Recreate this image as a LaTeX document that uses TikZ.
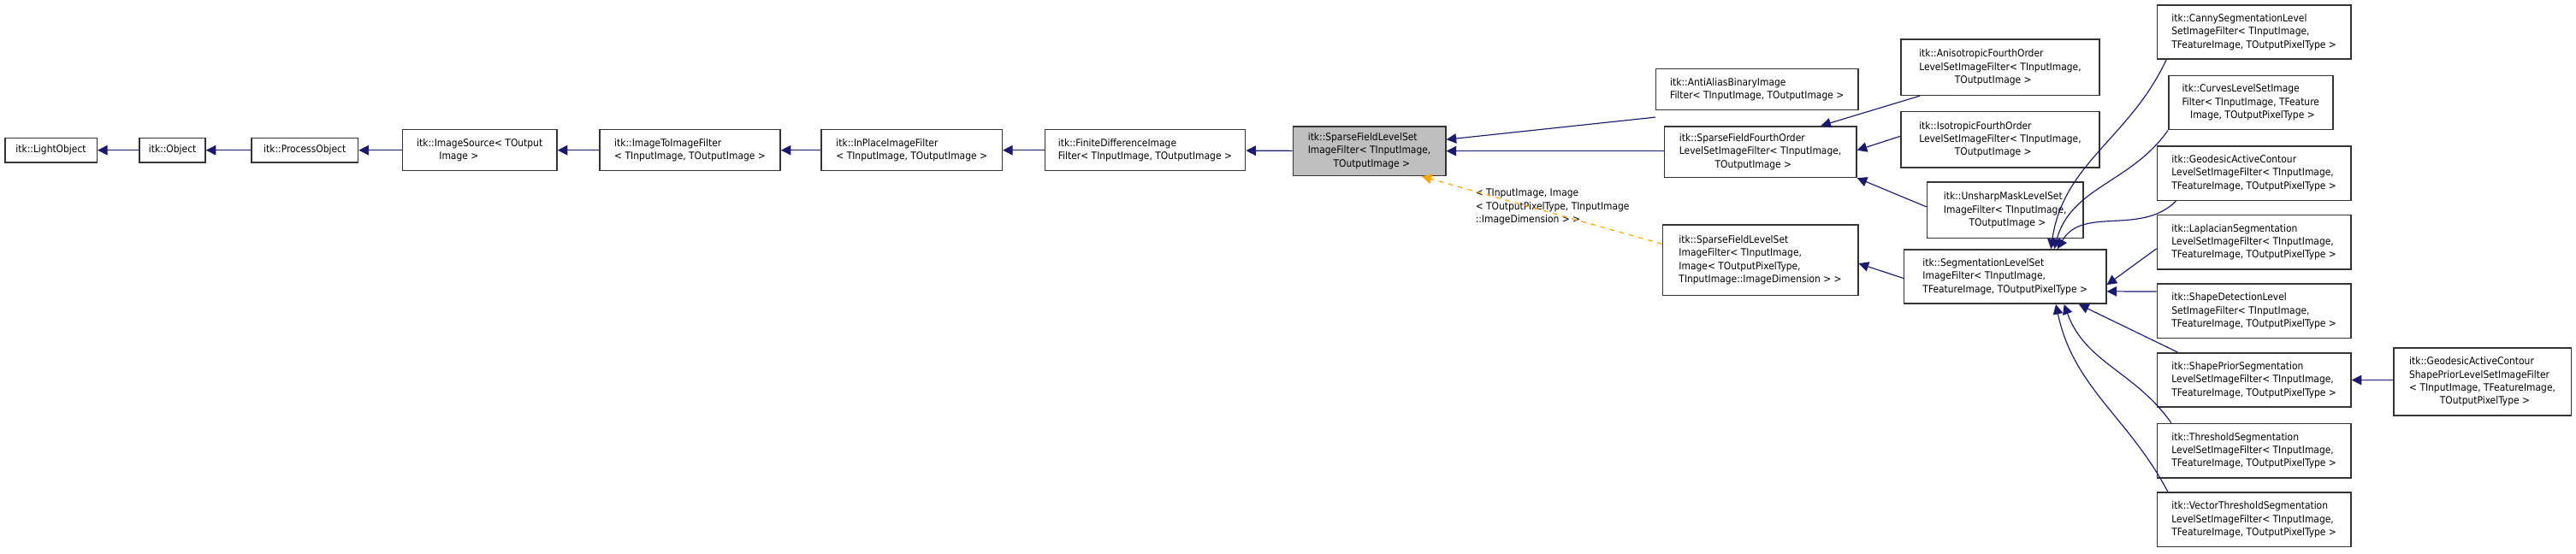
\documentclass[tikz,border=0pt]{standalone}
\usepackage{fontspec}
\setmainfont{DejaVu Sans Condensed}
\usetikzlibrary{arrows.meta}
\definecolor{edgeblue}{RGB}{25,25,112}
\definecolor{litorange}{RGB}{255,165,0}
\tikzset{
  cls/.style={draw=black!80, thick, fill=white, inner sep=1pt, align=left,
    font=\fontsize{6.2}{8}\selectfont},
  cur/.style={cls, fill=black!25},
  inh/.style={draw=edgeblue, semithick, -{Triangle[length=6pt,width=6pt]}},
  tpl/.style={draw=litorange, semithick, dashed, -{Triangle[length=6pt,width=6pt]}}
}
\newcommand{\cbox}[6][cls]{% style, name, x1, y1, x2, y2, then text
  \node[#1, minimum width={#5-#3}, minimum height={#6-#4}] (#2) at ({(#3+#5)/2},{(#4+#6)/2})}
\begin{document}
\begin{tikzpicture}[x=1pt, y=-1pt]
  \useasboundingbox (0,0) rectangle (1568,337.4);
  \cbox{light}{3}{84}{59}{99} {itk::LightObject};
  \cbox{obj}{85}{84}{125}{99} {itk::Object};
  \cbox{proc}{153}{84}{218}{99} {itk::ProcessObject};
  \cbox{src}{245}{79}{339}{104} {itk::ImageSource< TOutput\\\hspace*{2.2em}Image >};
  \cbox{i2i}{365}{79}{475}{104} {itk::ImageToImageFilter\\< TInputImage, TOutputImage >};
  \cbox{inpl}{500}{79}{610}{104} {itk::InPlaceImageFilter\\< TInputImage, TOutputImage >};
  \cbox{fdif}{636}{79}{758}{104} {itk::FiniteDifferenceImage\\Filter< TInputImage, TOutputImage >};
  \cbox[cur]{sfls}{787}{77}{880}{107} {itk::SparseFieldLevelSet\\ImageFilter< TInputImage,\\\hspace*{2.5em}TOutputImage >};
  \cbox{anti}{1008}{42}{1131}{67} {itk::AntiAliasBinaryImage\\Filter< TInputImage, TOutputImage >};
  \cbox{sf4}{1013}{77}{1130}{108} {itk::SparseFieldFourthOrder\\LevelSetImageFilter< TInputImage,\\\hspace*{3.5em}TOutputImage >};
  \cbox{aniso}{1157}{24}{1278}{58} {itk::AnisotropicFourthOrder\\LevelSetImageFilter< TInputImage,\\\hspace*{3.5em}TOutputImage >};
  \cbox{iso}{1157}{68}{1278}{102} {itk::IsotropicFourthOrder\\LevelSetImageFilter< TInputImage,\\\hspace*{3.5em}TOutputImage >};
  \cbox{unsh}{1173}{111}{1268}{145} {itk::UnsharpMaskLevelSet\\ImageFilter< TInputImage,\\\hspace*{2.5em}TOutputImage >};
  \cbox{sflsi}{1012}{137}{1131}{180} {itk::SparseFieldLevelSet\\ImageFilter< TInputImage,\\ Image< TOutputPixelType,\\ TInputImage::ImageDimension > >};
  \cbox{seg}{1159}{152}{1282}{185} {itk::SegmentationLevelSet\\ImageFilter< TInputImage,\\ TFeatureImage, TOutputPixelType >};
  \cbox{canny}{1313}{3}{1431}{36} {itk::CannySegmentationLevel\\SetImageFilter< TInputImage,\\ TFeatureImage, TOutputPixelType >};
  \cbox{curv}{1320}{46}{1420}{79} {itk::CurvesLevelSetImage\\Filter< TInputImage, TFeature\\\hspace*{0.8em}Image, TOutputPixelType >};
  \cbox{geo}{1313}{89}{1431}{122} {itk::GeodesicActiveContour\\LevelSetImageFilter< TInputImage,\\ TFeatureImage, TOutputPixelType >};
  \cbox{lapl}{1313}{131}{1431}{164} {itk::LaplacianSegmentation\\LevelSetImageFilter< TInputImage,\\ TFeatureImage, TOutputPixelType >};
  \cbox{shdet}{1313}{173}{1431}{206} {itk::ShapeDetectionLevel\\SetImageFilter< TInputImage,\\ TFeatureImage, TOutputPixelType >};
  \cbox{shpri}{1313}{215}{1431}{248} {itk::ShapePriorSegmentation\\LevelSetImageFilter< TInputImage,\\ TFeatureImage, TOutputPixelType >};
  \cbox{thr}{1313}{258}{1431}{291} {itk::ThresholdSegmentation\\LevelSetImageFilter< TInputImage,\\ TFeatureImage, TOutputPixelType >};
  \cbox{vthr}{1313}{300}{1431}{333} {itk::VectorThresholdSegmentation\\LevelSetImageFilter< TInputImage,\\ TFeatureImage, TOutputPixelType >};
  \cbox{geosp}{1457}{212}{1565}{253} {itk::GeodesicActiveContour\\ShapePriorLevelSetImageFilter\\< TInputImage, TFeatureImage,\\\hspace*{3em}TOutputPixelType >};
  \node[align=left, font=\fontsize{6.2}{8}\selectfont, inner sep=0pt] (tlab) at (945,126)
    {< TInputImage, Image\\< TOutputPixelType, TInputImage\\::ImageDimension > >};
  % main chain
  \draw[inh] (obj) -- (light);
  \draw[inh] (proc) -- (obj);
  \draw[inh] (src) -- (proc);
  \draw[inh] (i2i) -- (src);
  \draw[inh] (inpl) -- (i2i);
  \draw[inh] (fdif) -- (inpl);
  \draw[inh] (sfls) -- (fdif);
  \draw[inh] ([yshift=-4]anti.south west) -- ([yshift=7]sfls.east);
  \draw[inh] (sf4.west |- sfls.east) -- (sfls.east);
  \draw[tpl] ([yshift=-12]sflsi.north west) -- ([xshift=-15]sfls.south east);
  % fourth order
  \draw[inh] ([xshift=12]aniso.south west) -- ([xshift=-22]sf4.north east);
  \draw[inh] ([yshift=2]iso.west) -- ([yshift=1]sf4.east);
  \draw[inh] ([yshift=2]unsh.west) -- (sf4.south east);
  \draw[inh] ([yshift=-1]seg.west) -- ([yshift=-2]sflsi.east);
  % segmentation
  \draw[inh] ([xshift=6]canny.south west) to[out=-115, in=82] ([xshift=-34]seg.north east);
  \draw[inh] (curv.south west) to[out=-125, in=75] ([xshift=-32]seg.north east);
  \draw[inh] ([xshift=12]geo.south west) to[out=-135, in=60] ([xshift=-30]seg.north east);
  \draw[inh] ([yshift=-4]lapl.west) -- ([yshift=-5]seg.east);
  \draw[inh] ([yshift=-5]shdet.north west) -- ([yshift=-9]seg.east);
  \draw[inh] ([xshift=13]shpri.north west) -- ([xshift=-17]seg.south east);
  \draw[inh] ([xshift=9]thr.north west) to[out=125, in=-70] ([xshift=-26]seg.south east);
  \draw[inh] ([xshift=7]vthr.north west) to[out=118, in=-78] ([xshift=-31]seg.south east);
  \draw[inh] (geosp.west |- shpri.east) -- (shpri.east);
\end{tikzpicture}
\end{document}
